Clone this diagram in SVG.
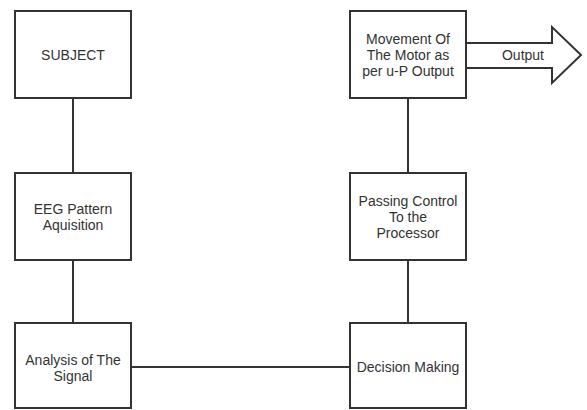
<svg xmlns="http://www.w3.org/2000/svg" width="587" height="410" viewBox="0 0 587 410">
<style>
.box{fill:#fff;stroke:#333;stroke-width:2}
.ln{stroke:#333;stroke-width:2;fill:none}
text{font-family:"Liberation Sans",Arial,sans-serif;font-size:14px;fill:#333;text-anchor:middle;dominant-baseline:central}
</style>
<rect width="587" height="410" fill="#fff"/>
<g id="connectors">
<line class="ln" x1="73" y1="98" x2="73" y2="173"/>
<line class="ln" x1="73" y1="260" x2="73" y2="323"/>
<line class="ln" x1="131" y1="367" x2="350" y2="367"/>
<line class="ln" x1="408" y1="323" x2="408" y2="260"/>
<line class="ln" x1="408" y1="173" x2="408" y2="98"/>
<g id="output">
<polygon class="box" points="466,43 552,43 552,27 581,55 552,83 552,68 466,68"/>
<text x="523" y="55">Output</text>
</g>
</g>
<g id="subject"><rect class="box" x="15" y="11" width="116" height="87"/><text x="73" y="55">SUBJECT</text></g>
<g id="eeg"><rect class="box" x="15" y="173" width="116" height="87"/><text x="73" y="209">EEG Pattern</text><text x="73" y="225">Aquisition</text></g>
<g id="analysis"><rect class="box" x="15" y="323" width="116" height="85"/><text x="73" y="360">Analysis of The</text><text x="73" y="376">Signal</text></g>
<g id="decision"><rect class="box" x="350" y="323" width="116" height="85"/><text x="408" y="367">Decision Making</text></g>
<g id="passing"><rect class="box" x="350" y="173" width="116" height="87"/><text x="408" y="201">Passing Control</text><text x="408" y="217">To the</text><text x="408" y="233">Processor</text></g>
<g id="movement"><rect class="box" x="350" y="11" width="116" height="87"/><text x="408" y="39">Movement Of</text><text x="408" y="55">The Motor as</text><text x="408" y="71">per u-P Output</text></g>
</svg>
